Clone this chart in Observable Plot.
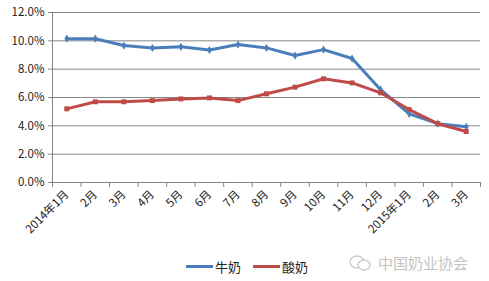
<!DOCTYPE html>
<html><head><meta charset="utf-8">
<script src="https://cdn.jsdelivr.net/npm/d3@7"></script>
<script src="https://cdn.jsdelivr.net/npm/@observablehq/plot@0.6"></script>
<style>
body{margin:0;background:#fff;font-family:"Noto Sans CJK SC",sans-serif;}
#wrap{position:relative;width:489px;height:281px;overflow:hidden;}
#legend{position:absolute;left:0;top:255px;width:489px;height:22px;font-size:13px;color:#222;}
.item{position:absolute;top:0;display:flex;align-items:center;height:22px;}
.sw{width:27px;height:3px;margin-right:2px;}
#wm{position:absolute;left:348px;top:252px;font-size:15px;color:#c4c4c4;display:flex;align-items:center;}
</style></head><body>
<div id="wrap"><div id="chart"></div>
<div id="legend">
<div class="item" style="left:186px"><div class="sw" style="background:#4A7EBB"></div>牛奶</div>
<div class="item" style="left:253px"><div class="sw" style="background:#BE4B48"></div>酸奶</div>
</div>
<div id="wm"><svg width="24" height="20" style="margin-right:6px"><ellipse cx="9" cy="9" rx="7" ry="6" fill="none" stroke="#ccc" stroke-width="1.5"/><ellipse cx="16" cy="12" rx="6" ry="5" fill="#fff" stroke="#ccc" stroke-width="1.5"/></svg>中国奶业协会</div>
</div>
<script>
const months = ["2014年1月","2月","3月","4月","5月","6月","7月","8月","9月","10月","11月","12月","2015年1月","2月","3月"];
const milk = [10.15,10.15,9.67,9.5,9.58,9.35,9.74,9.5,8.96,9.38,8.75,6.55,4.85,4.15,3.93];
const yogurt = [5.2,5.7,5.7,5.78,5.9,5.97,5.78,6.26,6.73,7.32,7.03,6.33,5.15,4.15,3.6];
const yTicks = [0,2,4,6,8,10,12];

const data = [];
months.forEach((m,i)=>{
  data.push({i:i+0.5, v:milk[i], s:"牛奶"});
  data.push({i:i+0.5, v:yogurt[i], s:"酸奶"});
});
const colors = {"牛奶":"#4A7EBB","酸奶":"#BE4B48"};

const chart = Plot.plot({
  width:489, height:250,
  marginLeft:52, marginRight:9, marginTop:12, marginBottom:68,
  style:{fontFamily:'"Noto Sans CJK SC",sans-serif', fontSize:"11px", color:"#222"},
  x:{domain:[0,15]},
  y:{domain:[0,12]},
  marks:[
    Plot.gridY(yTicks,{stroke:"#868686", strokeOpacity:1, strokeWidth:1}),
    Plot.axisY(yTicks,{tickSize:4, tickFormat:d=>d.toFixed(1)+"%", label:null, fontSize:11.5, tickPadding:4, stroke:"#868686"}),
    Plot.ruleX([0],{stroke:"#868686"}),
    Plot.ruleY([0],{stroke:"#868686"}),
    Plot.axisX(d3.range(0,16),{tickSize:5, tickFormat:()=>"", label:null, stroke:"#868686"}),
    Plot.axisX(d3.range(15).map(i=>i+0.5),{tickSize:0, tickFormat:d=>months[Math.floor(d)], tickRotate:-45, label:null, fontSize:11.5, tickPadding:10}),
    Plot.line(data,{x:"i", y:"v", z:"s", stroke:d=>colors[d.s], strokeWidth:3}),
    Plot.dot(data.filter(d=>d.s==="牛奶"),{x:"i", y:"v", symbol:"diamond", r:2.5, fill:"#4A7EBB"}),
    Plot.dot(data.filter(d=>d.s==="酸奶"),{x:"i", y:"v", symbol:"square", r:2.8, fill:"#BE4B48"})
  ]
});
document.getElementById("chart").appendChild(chart);
</script></body></html>
